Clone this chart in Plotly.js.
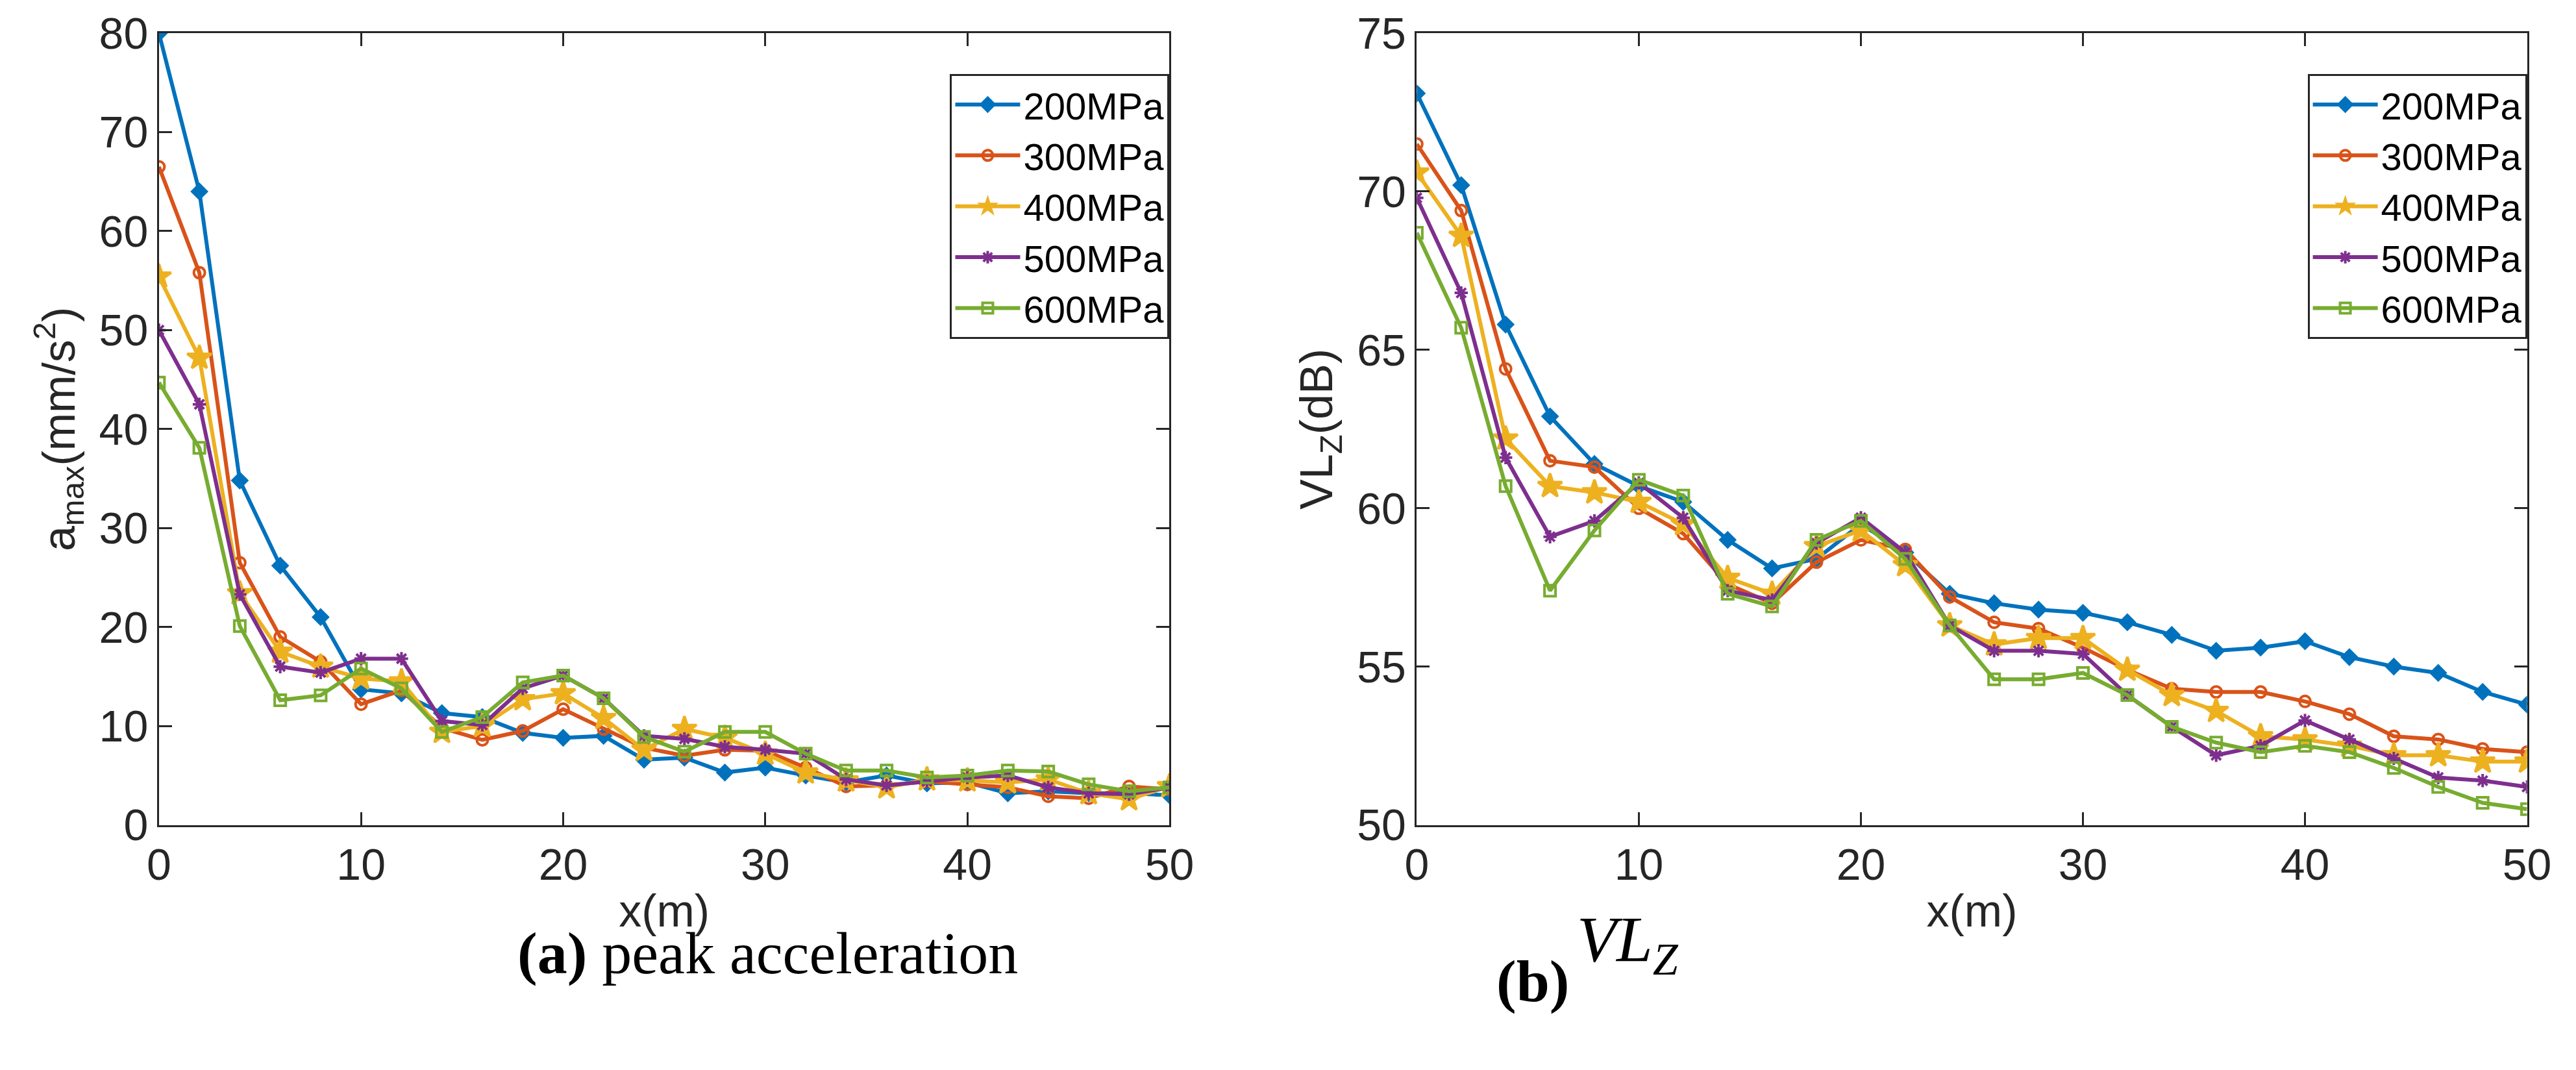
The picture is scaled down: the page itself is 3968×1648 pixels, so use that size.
<!DOCTYPE html>
<html>
<head>
<meta charset="utf-8">
<script src="https://cdn.plot.ly/plotly-3.0.1.min.js"></script>
<style>body{margin:0;background:#fff}</style>
</head>
<body>
<div id="plot" style="width:3968px;height:1648px"></div>
<script>
var xs = [0,2,4,6,8,10,12,14,16,18,20,22,24,26,28,30,32,34,36,38,40,42,44,46,48,50];
var names = ["200MPa","300MPa","400MPa","500MPa","600MPa"];
var colors = ["#0072BD","#D95319","#EDB120","#7E2F8E","#77AC30"];
var symbols = ["diamond","circle-open","star","asterisk-open","square-open"];

// peak acceleration (mm/s^2)
var acc200 = [80,64,34.8,26.2,21,13.7,13.3,11.3,10.9,9.3,8.8,9.0,6.6,6.8,5.3,5.8,5.0,4.3,5.0,4.2,4.3,3.2,3.4,3.2,3.2,3.0];
var acc300 = [66.5,55.8,26.5,19,16.5,12.2,13.6,9.8,8.6,9.5,11.7,9.7,7.8,7.0,7.6,7.5,5.8,3.9,4.0,4.4,4.1,3.8,2.9,2.7,3.9,3.6];
var acc400 = [55.4,47.2,23.4,17.5,16.0,14.8,14.5,9.4,10.0,12.7,13.3,10.8,7.6,9.7,8.8,7.2,5.3,4.5,3.8,4.6,4.5,4.3,4.6,3.2,2.6,3.9];
var acc500 = [50,42.5,23.3,16.0,15.4,16.8,16.8,10.5,10.1,13.8,15.1,12.8,9.0,8.7,7.9,7.6,7.2,4.6,4.0,4.4,4.8,5.0,3.8,3.2,3.1,3.8];
var acc600 = [44.7,38.1,20.1,12.6,13.1,15.8,13.8,9.4,10.9,14.4,15.1,12.8,8.9,7.4,9.4,9.4,7.2,5.5,5.5,4.8,5.0,5.5,5.4,4.1,3.4,3.8];

// VLz (dB)
var vl200 = [73.1,70.2,65.8,62.9,61.4,60.7,60.2,59.0,58.1,58.4,59.5,58.6,57.3,57.0,56.8,56.7,56.4,56.0,55.5,55.6,55.8,55.3,55.0,54.8,54.2,53.8];
var vl300 = [71.5,69.4,64.4,61.5,61.3,60.0,59.2,57.6,57.0,58.3,59.0,58.7,57.2,56.4,56.2,55.6,54.9,54.3,54.2,54.2,53.9,53.5,52.8,52.7,52.4,52.3];
var vl400 = [70.6,68.6,62.2,60.7,60.5,60.2,59.5,57.8,57.3,58.8,59.3,58.2,56.3,55.7,55.9,55.9,54.9,54.1,53.6,52.8,52.7,52.5,52.2,52.2,52.0,52.0];
var vl500 = [69.8,66.8,61.6,59.1,59.6,60.8,59.7,57.4,57.1,58.9,59.7,58.6,56.3,55.5,55.5,55.4,54.1,53.1,52.2,52.5,53.3,52.7,52.1,51.5,51.4,51.2];
var vl600 = [68.7,65.7,60.7,57.4,59.3,60.9,60.4,57.3,56.9,59.0,59.6,58.4,56.3,54.6,54.6,54.8,54.1,53.1,52.6,52.3,52.5,52.3,51.8,51.2,50.7,50.5];

var accs = [acc200,acc300,acc400,acc500,acc600];
var vls = [vl200,vl300,vl400,vl500,vl600];

var data = [];
for (var i = 0; i < names.length; i++) {
    var mk = {symbol: symbols[i], size: (i == 2 ? 28 : 17), color: colors[i], line: {color: colors[i], width: 4}};
    data.push({x: xs, y: accs[i], name: names[i], type: "scatter", mode: "lines+markers",
        line: {color: colors[i], width: 6}, marker: mk, xaxis: "x", yaxis: "y", legend: "legend"});
    data.push({x: xs, y: vls[i], name: names[i], type: "scatter", mode: "lines+markers",
        line: {color: colors[i], width: 6}, marker: mk, xaxis: "x2", yaxis: "y2", legend: "legend2"});
}

var sans = "Liberation Sans, Arial, sans-serif";
var tickfont = {family: sans, size: 68, color: "#262626"};
var titlefont = {family: sans, size: 70, color: "#262626"};
function axis(extra) {
    var a = {ticks: "inside", ticklen: 20, tickwidth: 3, tickcolor: "#262626", showline: true, linecolor: "#262626",
        linewidth: 3, mirror: "ticks", showgrid: false, zeroline: false, tickfont: tickfont};
    for (var k in extra) a[k] = extra[k];
    return a;
}
var legendStyle = {bgcolor: "#fff", bordercolor: "#262626", borderwidth: 3,
    font: {family: sans, size: 58, color: "#000"},
    xanchor: "right", yanchor: "top", tracegroupgap: 0, itemwidth: 100};

var layout = {
    width: 3968, height: 1648, showlegend: true,
    margin: {l: 0, r: 0, t: 0, b: 0},
    paper_bgcolor: "#fff", plot_bgcolor: "#fff",
    xaxis: axis({domain: [0.0617, 0.454], range: [0, 50], tickvals: [0,10,20,30,40,50], anchor: "y",
        title: {text: "x(m)", font: titlefont, standoff: 10}}),
    yaxis: axis({domain: [0.229, 0.969], range: [0, 80], tickvals: [0,10,20,30,40,50,60,70,80], anchor: "x",
        title: {text: "a<sub>max</sub>(mm/s<sup>2</sup>)", font: titlefont, standoff: 15}}),
    xaxis2: axis({domain: [0.550, 0.981], range: [0, 50], tickvals: [0,10,20,30,40,50], anchor: "y2",
        title: {text: "x(m)", font: titlefont, standoff: 10}}),
    yaxis2: axis({domain: [0.229, 0.969], range: [50, 75], tickvals: [50,55,60,65,70,75], anchor: "x2",
        title: {text: "VL<sub>Z</sub>(dB)", font: titlefont, standoff: 15}}),
    legend: Object.assign({x: 0.454, y: 0.931}, legendStyle),
    legend2: Object.assign({x: 0.981, y: 0.931}, legendStyle),
    annotations: [
        {text: "<b>(a)</b> peak acceleration", xref: "paper", yref: "paper", x: 0.298, y: 0.109,
            xanchor: "center", yanchor: "middle",
            showarrow: false, font: {family: "Liberation Serif, serif", size: 92, color: "#000"}},
        {text: "<b>(b)</b>", xref: "paper", yref: "paper", x: 0.595, y: 0.083,
            xanchor: "center", yanchor: "middle",
            showarrow: false, font: {family: "Liberation Serif, serif", size: 92, color: "#000"}},
        {text: "<i>VL<sub>Z</sub></i>", xref: "paper", yref: "paper", x: 0.632, y: 0.118,
            xanchor: "center", yanchor: "middle",
            showarrow: false, font: {family: "Liberation Serif, serif", size: 100, color: "#000"}}
    ]
};

Plotly.newPlot("plot", data, layout, {staticPlot: true});
</script>
</body>
</html>
